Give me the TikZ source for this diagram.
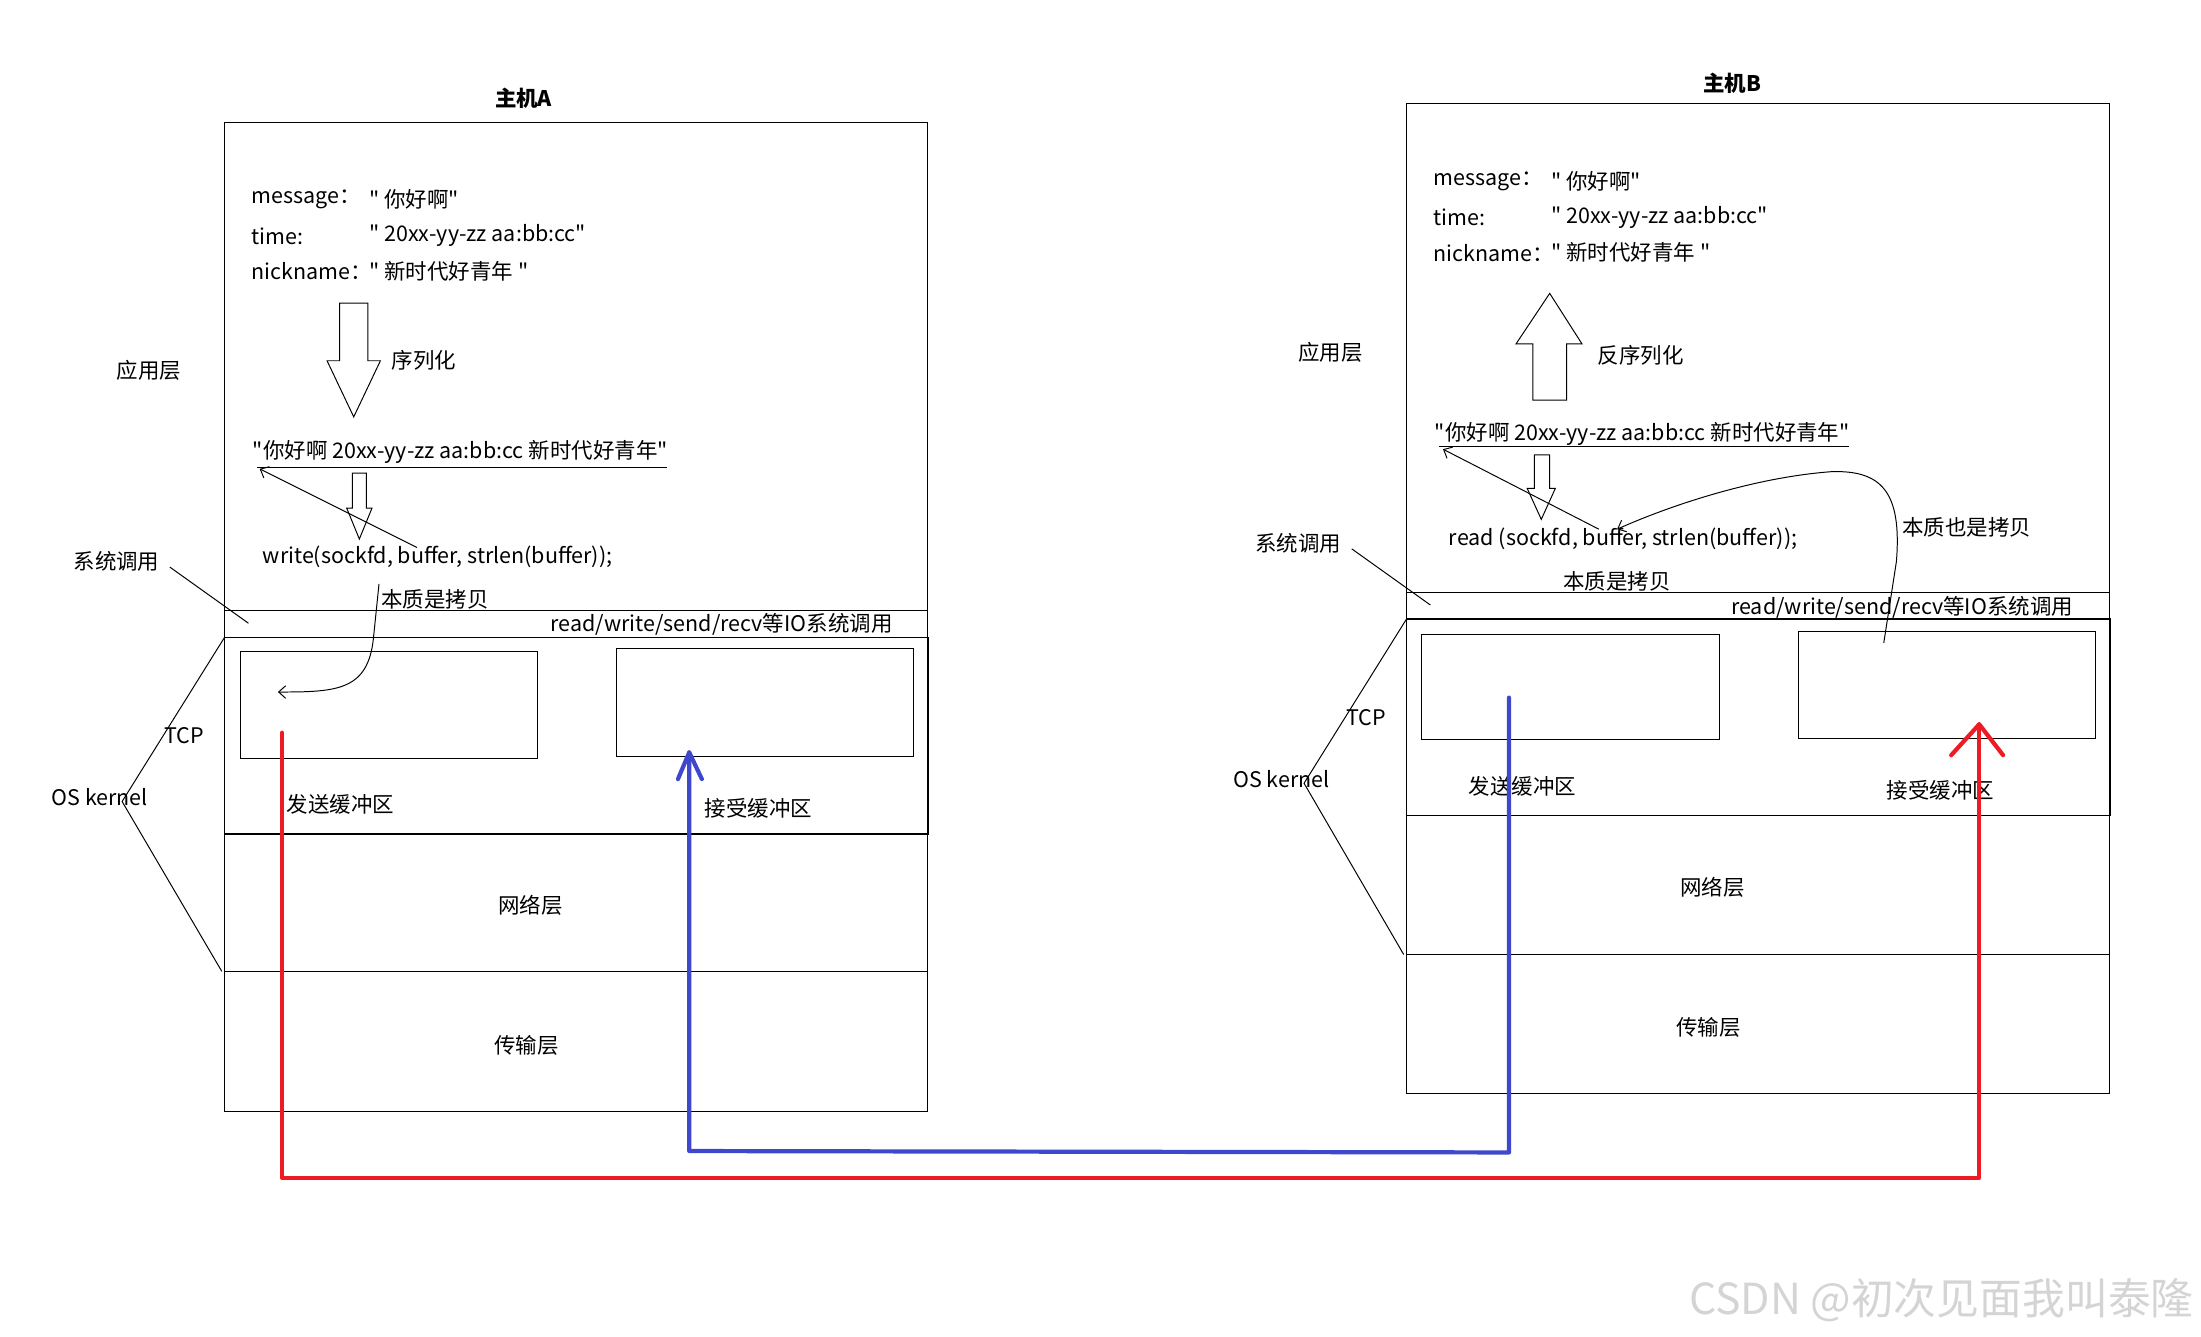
\documentclass[tikz,border=0pt]{standalone}
\usepackage{fontspec}
\setmainfont{Noto Sans CJK SC}[Ligatures=TeXOff]
\usetikzlibrary{arrows.meta}
\definecolor{myred}{HTML}{ED1C24}
\definecolor{myblue}{HTML}{3F48CC}
\definecolor{wmgray}{HTML}{D4D4D4}
\begin{document}
\begin{tikzpicture}[x=1pt,y=-1pt,
  thinl/.style={line width=0.7pt},
  boxl/.style={draw,line width=0.7pt},
  tcpl/.style={draw,line width=1.1pt},
  lbl/.style={inner sep=0pt,font=\fontsize{15.3}{17}\selectfont},
  ttl/.style={inner sep=0pt,font=\fontsize{15.3}{17}\selectfont\bfseries},
  barb/.style={thinl,-{Straight Barb[length=5pt,width=9pt]}},
  redl/.style={draw=myred,line width=3pt,line cap=round,line join=round},
  bluel/.style={draw=myblue,line width=3pt,line cap=round,line join=round}]
\useasboundingbox (0,0) rectangle (1568,952);

% ================= Host A =================
\node[ttl] (tA) at (373,70) {主机A};
\draw[boxl] (160,87) rectangle (661,792);
\draw[boxl] (160,435) -- (661,435);
\draw[tcpl] (160,454) rectangle (661,594);
\draw[boxl] (160,692) -- (661,692);
\draw[boxl] (171,464) rectangle (383,540);
\draw[boxl] (439,462) rectangle (651,539);

\node[lbl,anchor=west] (mA) at (179,142) {message：};
\node[lbl,anchor=west] (mAv) at (263,142) {" 你好啊"};
\node[lbl,anchor=west] (tiA) at (179,168) {time:};
\node[lbl,anchor=west] (tiAv) at (263,168) {" 20xx-yy-zz aa:bb:cc"};
\node[lbl,anchor=west] (nA) at (179,193) {nickname：};
\node[lbl,anchor=west] (nAv) at (263,193) {" 新时代好青年 "};

\draw[thinl] (242,216) -- (262,216) -- (262,257) -- (271,257) -- (252,297) -- (233,257) -- (242,257) -- cycle;
\node[lbl,anchor=west] (serA) at (279,257) {序列化};

\node[lbl,anchor=west] (strA) at (180,322) {"你好啊 20xx-yy-zz aa:bb:cc 新时代好青年"};
\draw[thinl] (183,333) -- (475,333);
\draw[thinl] (251,337) -- (261,337) -- (261,362) -- (265,362) -- (256,384) -- (247,362) -- (251,362) -- cycle;

\node[lbl,anchor=west] (wA) at (187,397) {write(sockfd, buffer, strlen(buffer));};
\coordinate (wAs) at (297,390);
\coordinate (strAs) at (185,334);
\draw[barb] (wAs) -- (strAs);

\node[lbl] (cpA) at (310,427) {本质是拷贝};
\coordinate (cpAs) at (270,416);
\coordinate (sbA) at (198,493);
\draw[barb] (cpAs) -- (266,455) .. controls (262,492) and (240,493) .. (sbA);

\node[lbl,anchor=east] (ioA) at (636,445) {read/write/send/recv等IO系统调用};
\node[lbl,anchor=west] (sendA) at (204,573) {发送缓冲区};
\node[lbl,anchor=west] (recvA) at (502,576) {接受缓冲区};
\node[lbl] (netA) at (378,645) {网络层};
\node[lbl] (traA) at (375,745) {传输层};

\node[lbl] (appA) at (106,264) {应用层};
\node[lbl] (sysA) at (83,400) {系统调用};
\coordinate (sysAs) at (121,404);
\coordinate (sysAe) at (177,444);
\draw[thinl] (sysAs) -- (sysAe);
\node[lbl] (tcpA) at (131,524) {TCP};
\node[lbl] (osA) at (71,568) {OS kernel};
\coordinate (osAv) at (87,571);
\coordinate (osAt) at (160,454);
\coordinate (osAb) at (158,692);
\draw[thinl] (osAt) -- (osAv) -- (osAb);

% ================= Host B =================
\node[ttl] (tB) at (1234,59) {主机B};
\draw[boxl] (1002,74) rectangle (1503,779);
\draw[boxl] (1002,422) -- (1503,422);
\draw[tcpl] (1002,441) rectangle (1503,581);
\draw[boxl] (1002,680) -- (1503,680);
\draw[boxl] (1013,452) rectangle (1225,527);
\draw[boxl] (1281,450) rectangle (1493,526);

\node[lbl,anchor=west] (mB) at (1021,129) {message：};
\node[lbl,anchor=west] (mBv) at (1105,129) {" 你好啊"};
\node[lbl,anchor=west] (tiB) at (1021,155) {time:};
\node[lbl,anchor=west] (tiBv) at (1105,155) {" 20xx-yy-zz aa:bb:cc"};
\node[lbl,anchor=west] (nB) at (1021,180) {nickname：};
\node[lbl,anchor=west] (nBv) at (1105,180) {" 新时代好青年 "};

\draw[thinl] (1104,209) -- (1127,245) -- (1116,245) -- (1116,285) -- (1092,285) -- (1092,245) -- (1080,245) -- cycle;
\node[lbl,anchor=west] (deB) at (1138,253) {反序列化};

\node[lbl,anchor=west] (strB) at (1022,309) {"你好啊 20xx-yy-zz aa:bb:cc 新时代好青年"};
\draw[thinl] (1025,318) -- (1317,318);
\draw[thinl] (1093,324) -- (1104,324) -- (1104,348) -- (1108,348) -- (1098,370) -- (1088,348) -- (1093,348) -- cycle;

\node[lbl,anchor=west] (rB) at (1032,384) {read (sockfd, buffer, strlen(buffer));};
\coordinate (rBs) at (1139,377);
\coordinate (strBs) at (1028,320);
\draw[barb] (rBs) -- (strBs);

\node[lbl] (cpB) at (1152,414) {本质是拷贝};
\node[lbl] (cp2B) at (1401,376) {本质也是拷贝};
\coordinate (rbB) at (1342,458);
\coordinate (bufB) at (1152,377);
\draw[barb] (rbB) -- (1351,400) .. controls (1355,350) and (1340,335) .. (1305,336) .. controls (1250,340) and (1190,360) .. (bufB);

\node[lbl,anchor=east] (ioB) at (1477,433) {read/write/send/recv等IO系统调用};
\node[lbl,anchor=west] (sendB) at (1046,560) {发送缓冲区};
\node[lbl,anchor=west] (recvB) at (1344,563) {接受缓冲区};
\node[lbl] (netB) at (1220,632) {网络层};
\node[lbl] (traB) at (1217,732) {传输层};

\node[lbl] (appB) at (948,251) {应用层};
\node[lbl] (sysB) at (925,387) {系统调用};
\coordinate (sysBs) at (963,391);
\coordinate (sysBe) at (1019,431);
\draw[thinl] (sysBs) -- (sysBe);
\node[lbl] (tcpB) at (973,511) {TCP};
\node[lbl] (osB) at (913,555) {OS kernel};
\coordinate (osBv) at (929,558);
\coordinate (osBt) at (1002,441);
\coordinate (osBb) at (1000,680);
\draw[thinl] (osBt) -- (osBv) -- (osBb);

% ================= Data paths =================
\coordinate (redS) at (201,522);
\coordinate (redE) at (1410,516);
\draw[redl] (redS) -- (201,839) -- (1410,839) -- (redE);
\draw[redl] (1390,538) -- (redE) -- (1427,538);

\coordinate (bluS) at (1075,497);
\coordinate (bluE) at (491,536);
\draw[bluel] (bluS) -- (1075,821) -- (491,820) -- (bluE);
\draw[bluel] (483,555) -- (bluE) -- (500,555);

% watermark
\node[inner sep=0pt,text=wmgray,font=\fontsize{30.5}{33}\selectfont] (wm) at (1383,926) {CSDN @初次见面我叫泰隆};
\end{tikzpicture}
\end{document}
